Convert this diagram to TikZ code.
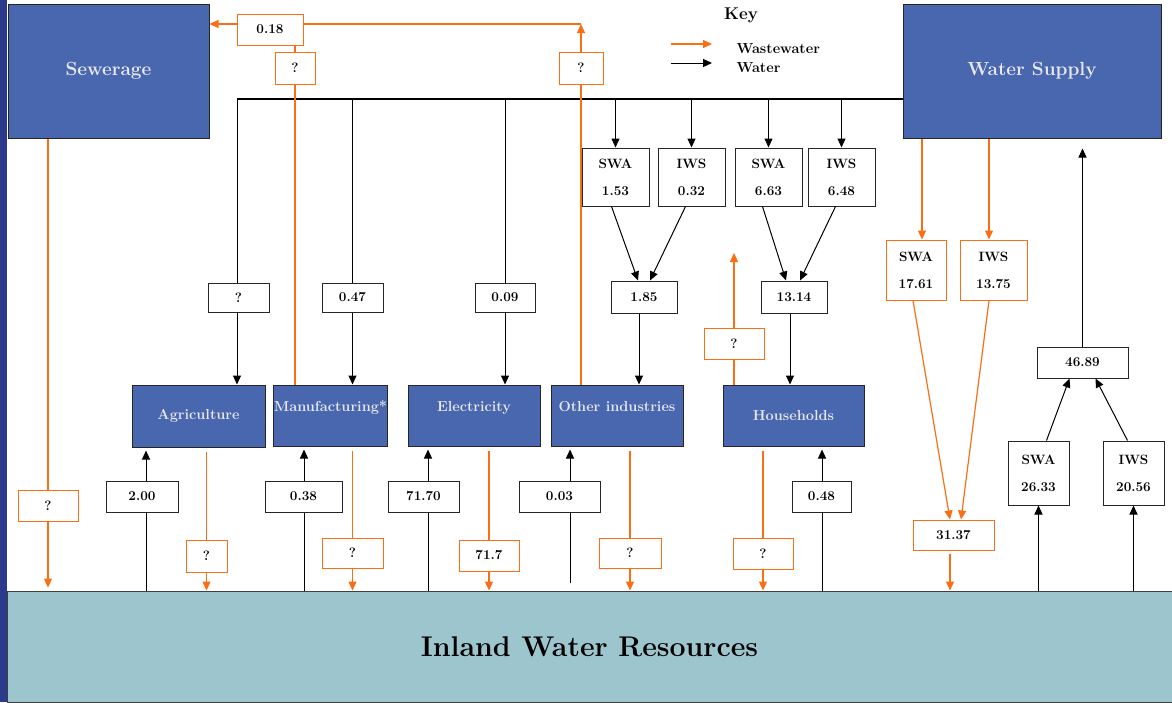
\documentclass[tikz,border=0pt]{standalone}
\usepackage{tikz}
\usetikzlibrary{arrows.meta}
\definecolor{sectorblue}{RGB}{73,103,174}
\definecolor{wworange}{RGB}{250,110,20}
\definecolor{inlandteal}{RGB}{157,197,205}
\definecolor{stripeblue}{RGB}{44,58,140}
\definecolor{labelgrey}{RGB}{232,232,240}

\begin{document}
\begin{tikzpicture}[x=1pt,y=-1pt,
  sector/.style={draw=black!85,fill=sectorblue,text=labelgrey,font=\fontsize{14.5}{16}\selectfont\bfseries,inner sep=0pt,line width=1pt},
  raised/.style={text height=9pt,text depth=17pt},
  bigbox/.style={sector,font=\fontsize{19}{22}\selectfont\bfseries},
  valbox/.style={draw=black!85,fill=white,font=\fontsize{13.5}{15}\selectfont\bfseries,inner sep=0pt,line width=1pt,align=center},
  wastebox/.style={valbox,draw=wworange},
  water/.style={draw=black,line width=1pt},
  waste/.style={draw=wworange,line width=1.2pt},
  tip/.style={-{Triangle[length=9pt,width=8pt]}}]
\useasboundingbox (0,0) rectangle (1172,702);
\fill[stripeblue] (0,0) rectangle (7,702);

% main boxes
\node[bigbox,minimum width=201,minimum height=134] (sew) at (108.5,71) {Sewerage};
\node[bigbox,minimum width=258,minimum height=134] (ws) at (1032,71) {Water Supply};
\node[draw=black!75,fill=inlandteal,minimum width=1165,minimum height=111,line width=1pt,
  font=\fontsize{28.5}{32}\selectfont\bfseries] (inland) at (589.5,646.5) {Inland Water Resources};

% sectors
\node[sector,minimum width=133,minimum height=62] (agri) at (198.5,416) {Agriculture};
\node[sector,raised,minimum width=111,minimum height=61] (manu) at (330.5,415.5) {Manufacturing*};
\node[sector,raised,minimum width=132,minimum height=61] (elec) at (474,415.5) {Electricity};
\node[sector,raised,minimum width=132,minimum height=61] (oth) at (617,415.5) {Other industries};
\node[sector,minimum width=141,minimum height=61] (hh) at (793.5,415.5) {Households};

% key
\node[font=\fontsize{17}{20}\selectfont\bfseries] (key) at (741,15) {Key};
\node[anchor=west,font=\fontsize{14.5}{16}\selectfont\bfseries] (keyww) at (733,49) {Wastewater};
\node[anchor=west,font=\fontsize{14.5}{16}\selectfont\bfseries] (keyw) at (733,68) {Water};
\coordinate (kww) at (671,44);
\coordinate (kw) at (671,63);
\draw[waste,tip] (kww) -- ++(41,0);
\draw[water,tip] (kw) -- ++(41,0);

% water from supply network
\node[valbox,minimum width=61,minimum height=29] (qagri) at (238.5,297.5) {?};
\node[valbox,minimum width=61,minimum height=29] (vmanu) at (352.5,297.5) {0.47};
\node[valbox,minimum width=60,minimum height=29] (velec) at (505,297.5) {0.09};
\node[valbox,minimum width=67,minimum height=58] (swaoth) at (615.5,177) {SWA\\[12pt]1.53};
\node[valbox,minimum width=67,minimum height=58] (iwsoth) at (691.5,177) {IWS\\[12pt]0.32};
\node[valbox,minimum width=67,minimum height=58] (swahh) at (768.5,177) {SWA\\[12pt]6.63};
\node[valbox,minimum width=67,minimum height=58] (iwshh) at (841.5,177) {IWS\\[12pt]6.48};
\node[valbox,minimum width=66,minimum height=32] (voth) at (644,297) {1.85};
\node[valbox,minimum width=66,minimum height=32] (vhh) at (794,297) {13.14};

\coordinate (bus) at (237,99);
\draw[water,line width=1.6pt] (bus) -- (bus -| ws.west);
\draw[water] (bus) -- (bus |- qagri.north);
\draw[water,tip] (bus |- qagri.south) -- (bus |- agri.north);
\draw[water] (vmanu.north |- bus) -- (vmanu.north);
\draw[water,tip] (vmanu.south) -- (vmanu.south |- manu.north);
\draw[water] (velec.north |- bus) -- (velec.north);
\draw[water,tip] (velec.south) -- (velec.south |- elec.north);
\foreach \n in {swaoth,iwsoth,swahh,iwshh}
  \draw[water,tip] (\n.north |- bus) -- (\n.north);
\draw[water,tip] ([xshift=-4]swaoth.south) -- ([xshift=-6]voth.north);
\draw[water,tip] ([xshift=-6]iwsoth.south) -- ([xshift=6]voth.north);
\draw[water,tip] ([xshift=-6]swahh.south) -- ([xshift=-8]vhh.north);
\draw[water,tip] ([xshift=-6]iwshh.south) -- ([xshift=6]vhh.north);
\draw[water,tip] ([xshift=-5]voth.south) -- ([xshift=-5]voth.south |- oth.north);
\draw[water,tip] ([xshift=-4]vhh.south) -- ([xshift=-4]vhh.south |- hh.north);

% wastewater to sewerage
\node[wastebox,minimum width=40,minimum height=32] (qsewmanu) at (295,68) {?};
\node[wastebox,minimum width=66,minimum height=31] (vsew) at (270,29.5) {0.18};
\node[wastebox,minimum width=44,minimum height=32] (qsewoth) at (581,68) {?};
\coordinate (wwtop) at (581,24);
\draw[waste] (qsewmanu.south |- manu.north) -- (qsewmanu.south);
\draw[waste] (qsewmanu.north) -- (qsewmanu.north |- vsew.south);
\draw[waste] (qsewoth.south |- oth.north) -- (qsewoth.south);
\draw[waste,tip] (qsewoth.north) -- (wwtop);
\draw[waste] (wwtop) -- (wwtop -| vsew.east);
\draw[waste,tip] (wwtop -| vsew.west) -- (wwtop -| sew.east);

\node[wastebox,minimum width=60,minimum height=31] (qsewdown) at (48,505.5) {?};
\draw[waste] (qsewdown.north |- sew.south) -- (qsewdown.north);
\draw[waste,tip,shorten >=3pt] (qsewdown.south) -- (qsewdown.south |- inland.north);

% wastewater back to inland water
\node[wastebox,minimum width=41,minimum height=32] (qagridown) at (206.5,556) {?};
\node[wastebox,minimum width=61,minimum height=30] (qmanudown) at (352.5,553) {?};
\node[wastebox,minimum width=60,minimum height=31] (velecdown) at (489,555.5) {71.7};
\node[wastebox,minimum width=62,minimum height=30] (qothdown) at (630,553) {?};
\node[wastebox,minimum width=60,minimum height=31] (qhhdown) at (763,553.5) {?};
\foreach \s/\b in {agri/qagridown,manu/qmanudown,elec/velecdown,oth/qothdown,hh/qhhdown}{
  \draw[waste,shorten <=4pt] (\b.north |- \s.south) -- (\b.north);
  \draw[waste,tip] (\b.south) -- (\b.south |- inland.north);
}

\node[wastebox,minimum width=60,minimum height=31] (qhhup) at (734,343.5) {?};
\coordinate (hhupend) at (734,253);
\draw[waste] (qhhup.south |- hh.north) -- (qhhup.south);
\draw[waste,tip] (qhhup.north) -- (hhupend);

% abstraction from inland water
\node[valbox,minimum width=72,minimum height=31] (vagriup) at (142,496.5) {2.00};
\node[valbox,minimum width=77,minimum height=31] (vmanuup) at (303.5,496.5) {0.38};
\node[valbox,minimum width=71,minimum height=31] (velecup) at (423.5,496.5) {71.70};
\node[valbox,minimum width=81,minimum height=31] (vothup) at (559.5,496.5) {0.03};
\node[valbox,minimum width=59,minimum height=31] (vhhup) at (821.5,496.5) {0.48};
\coordinate (inagri) at (146,591);
\coordinate (inmanu) at (304,591);
\coordinate (inelec) at (428,591);
\coordinate (inoth) at (570,583);
\coordinate (inhh) at (822,591);
\foreach \c/\b/\s in {inagri/vagriup/agri,inmanu/vmanuup/manu,inelec/velecup/elec,inoth/vothup/oth,inhh/vhhup/hh}{
  \draw[water] (\c) -- (\c |- \b.south);
  \draw[water,tip,shorten >=3pt] (\c |- \b.north) -- (\c |- \s.south);
}

% water supply
\node[wastebox,minimum width=60,minimum height=60] (swaws) at (916,270) {SWA\\[12pt]17.61};
\node[wastebox,minimum width=67,minimum height=60] (iwsws) at (993.5,270) {IWS\\[12pt]13.75};
\node[wastebox,minimum width=81,minimum height=30] (vwsdown) at (953.5,535) {31.37};
\draw[waste,tip] ([xshift=6]swaws.north |- ws.south) -- ([xshift=6]swaws.north);
\draw[waste,tip] ([xshift=-4.5]iwsws.north |- ws.south) -- ([xshift=-4.5]iwsws.north);
\draw[waste,tip] ([xshift=-3]swaws.south) -- ([xshift=-3.5]vwsdown.north);
\draw[waste,tip] ([xshift=-4.5]iwsws.south) -- ([xshift=7.5]vwsdown.north);
\draw[waste,tip,shorten <=3pt] ([xshift=-3.5]vwsdown.south) -- ([xshift=-3.5]vwsdown.south |- inland.north);

\node[valbox,minimum width=61,minimum height=64] (swaup) at (1038.5,473) {SWA\\[12pt]26.33};
\node[valbox,minimum width=61,minimum height=64] (iwsup) at (1133.5,473) {IWS\\[12pt]20.56};
\node[valbox,minimum width=91,minimum height=31] (vwsup) at (1082.5,362.5) {46.89};
\draw[water,tip] (swaup.south |- inland.north) -- (swaup.south);
\draw[water,tip] (iwsup.south |- inland.north) -- (iwsup.south);
\draw[water,tip] ([xshift=8]swaup.north) -- ([xshift=-13]vwsup.south);
\draw[water,tip] ([xshift=-6]iwsup.north) -- ([xshift=13]vwsup.south);
\draw[water,tip] (vwsup.north) -- ([yshift=-10]vwsup.north |- ws.south);
\end{tikzpicture}
\end{document}
